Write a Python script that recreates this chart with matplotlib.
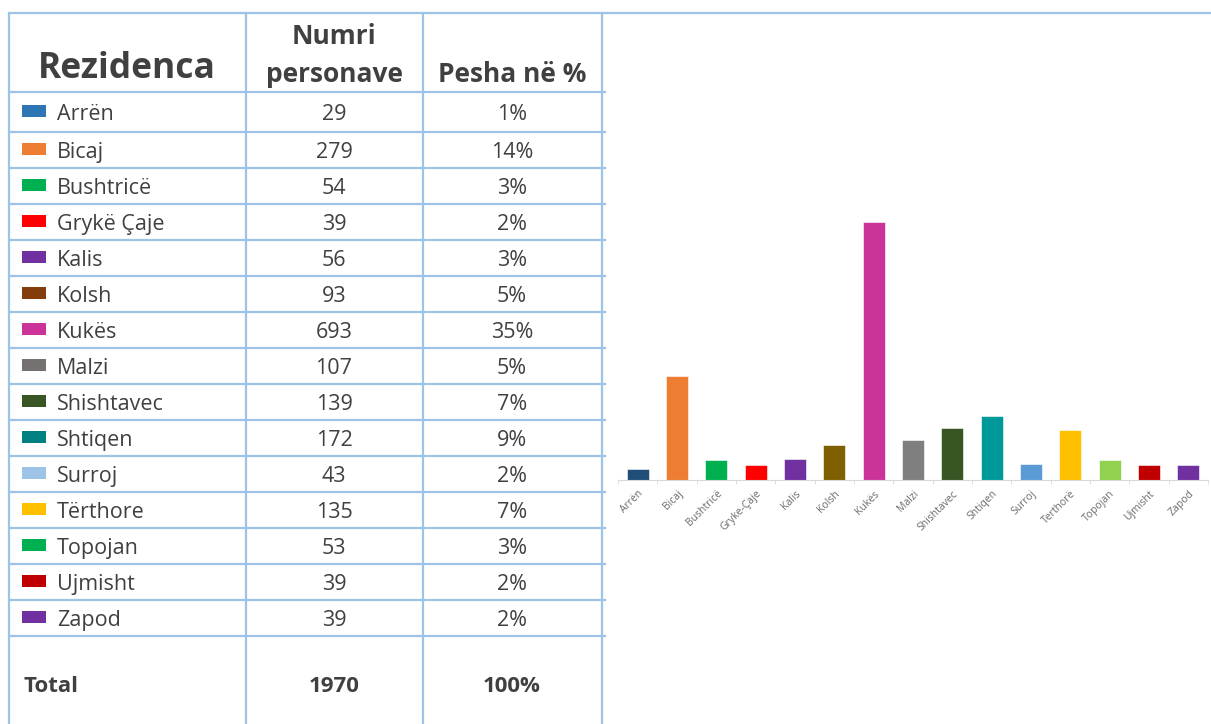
import matplotlib.pyplot as plt
from matplotlib.patches import Rectangle

# të dhënat e tabelës
rezidenca = ["Arrën", "Bicaj", "Bushtricë", "Grykë Çaje", "Kalis", "Kolsh", "Kukës",
             "Malzi", "Shishtavec", "Shtiqen", "Surroj", "Tërthore", "Topojan",
             "Ujmisht", "Zapod"]
numri = [29, 279, 54, 39, 56, 93, 693, 107, 139, 172, 43, 135, 53, 39, 39]
pesha = ["1%", "14%", "3%", "2%", "3%", "5%", "35%", "5%", "7%", "9%", "2%", "7%",
         "3%", "2%", "2%"]
ngjyra_tabele = ["#2E75B6", "#ED7D31", "#00B050", "#FF0000", "#7030A0", "#843C0C",
                 "#CC3399", "#767171", "#375623", "#008080", "#9DC3E6", "#FFC000",
                 "#00B050", "#C00000", "#7030A0"]
total_numri = "1970"
total_pesha = "100%"

# etiketat dhe ngjyrat e grafikut
etiketat = ["Arrën", "Bicaj", "Bushtricë", "Gryke-Çaje", "Kalis", "Kolsh", "Kukës",
            "Malzi", "Shishtavec", "Shtiqen", "Surroj", "Terthorë", "Topojan",
            "Ujmisht", "Zapod"]
ngjyra_bar = ["#1F4E79", "#ED7D31", "#00B050", "#FF0000", "#7030A0", "#7F6000",
              "#CC3399", "#7F7F7F", "#375623", "#009999", "#5B9BD5", "#FFC000",
              "#92D050", "#C00000", "#7030A0"]

W, H = 1211, 724
fig = plt.figure(figsize=(W / 100, H / 100), dpi=100)
plt.rcParams['font.family'] = ['Open Sans', 'DejaVu Sans']

# tabela vizatohet në koordinata piksel
ax = fig.add_axes([0, 0, 1, 1])
ax.set_xlim(0, W)
ax.set_ylim(H, 0)
ax.axis("off")

vija = "#9DC3E6"
tekst = "#404040"
kol = [9, 246, 423, 602]
rreshta = [92, 132] + [132 + 36 * (i + 1) for i in range(14)]

ax.plot([kol[0], W], [13, 13], color=vija, lw=1.6)
for x in kol:
    ax.plot([x, x], [13, H], color=vija, lw=1.6)
for y in rreshta:
    ax.plot([kol[0], kol[-1] + 3], [y, y], color=vija, lw=1.6)

# koka e tabelës
ax.text(38, 69, "Rezidenca", fontsize=25.5, fontweight="bold", color=tekst, va="center")
ax.text(334, 36, "Numri", fontsize=19, fontweight="bold", color=tekst, ha="center", va="center")
ax.text(334, 74, "personave", fontsize=19, fontweight="bold", color=tekst, ha="center", va="center")
ax.text(512, 74, "Pesha në %", fontsize=19, fontweight="bold", color=tekst, ha="center", va="center")

kufij = [92] + rreshta[1:]
for i, emri in enumerate(rezidenca):
    yc = (kufij[i] + kufij[i + 1]) / 2 + 2.5
    ax.add_patch(Rectangle((22, yc - 10), 24, 12, facecolor=ngjyra_tabele[i], edgecolor="none"))
    ax.text(57, yc, emri, fontsize=15.5, color=tekst, va="center")
    ax.text(334, yc, str(numri[i]), fontsize=15.5, color=tekst, ha="center", va="center")
    ax.text(512, yc, pesha[i], fontsize=15.5, color=tekst, ha="center", va="center")

ax.text(24, 687, "Total", fontsize=16, fontweight="bold", color=tekst, va="center")
ax.text(334, 687, total_numri, fontsize=16, fontweight="bold", color=tekst, ha="center", va="center")
ax.text(512, 687, total_pesha, fontsize=16, fontweight="bold", color=tekst, ha="center", va="center")

# grafiku me shtylla
ymax = 700
baza = 480
lart = baza - 258 * ymax / 693
bx = fig.add_axes([618 / W, (H - baza) / H, 590 / W, (baza - lart) / H])
pos = range(len(numri))
bx.bar(pos, numri, width=0.56, color=ngjyra_bar, edgecolor="white", linewidth=0.4)
bx.set_xlim(-0.5, len(numri) - 0.5)
bx.set_ylim(0, ymax)
for s in ["left", "top", "right"]:
    bx.spines[s].set_visible(False)
bx.spines["bottom"].set_color("#D9D9D9")
bx.set_yticks([])
bx.set_xticks(list(pos))
bx.set_xticklabels(etiketat, rotation=45, ha="right", rotation_mode="anchor",
                   fontsize=7.5, color="#6B6B6B")
bx.tick_params(axis="x", which="major", length=0, pad=6)
bx.set_xticks([i + 0.5 for i in range(-1, len(numri))], minor=True)
bx.tick_params(axis="x", which="minor", length=3, color="#D9D9D9")
bx.patch.set_alpha(0)

fig.savefig("out.png", dpi=100)
